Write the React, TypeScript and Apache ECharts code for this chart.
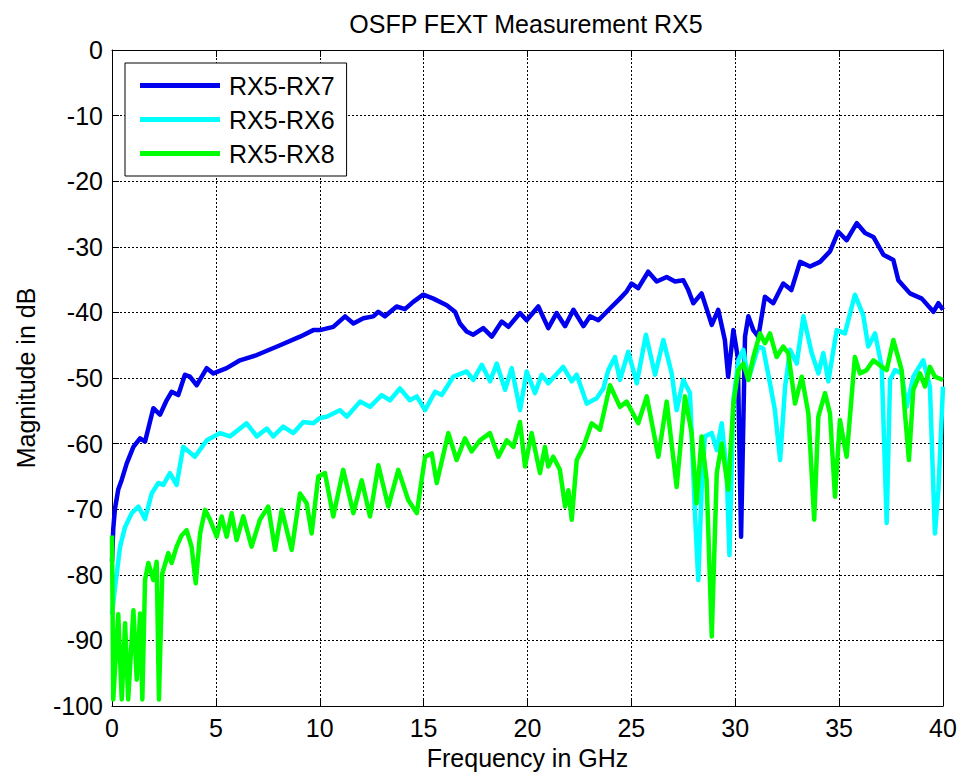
import React, { useEffect, useRef } from "react";
import * as echarts from "echarts";

const chartTitle = "OSFP FEXT Measurement RX5";
const xName = "Frequency in GHz";
const yName = "Magnitude in dB";
const seriesNames = ["RX5-RX7", "RX5-RX6", "RX5-RX8"];
const seriesColors = ["#0000EE", "#00FFFF", "#00FF00"];

const rx7Freq = [0, 0.06, 0.14, 0.30, 0.47, 0.71, 1.03, 1.35, 1.59, 1.99, 2.31, 2.63, 2.87, 3.19, 3.51, 3.75, 4.08, 4.56, 4.88, 5.52, 6.16, 6.97, 8.09, 9.05, 9.69, 10.01, 10.65, 11.22, 11.62, 12.10, 12.58, 12.82, 13.14, 13.70, 14.10, 14.50, 14.98, 15.47, 16.11, 16.51, 16.75, 17.07, 17.39, 17.87, 18.28, 18.76, 19.08, 19.64, 19.96, 20.52, 21.0, 21.4, 21.81, 22.21, 22.69, 23.01, 23.41, 23.97, 24.45, 24.77, 25.01, 25.33, 25.81, 26.22, 26.7, 27.1, 27.5, 27.74, 27.98, 28.38, 28.87, 29.18, 29.5, 29.66, 29.91, 30.12, 30.28, 30.47, 30.63, 30.87, 31.11, 31.43, 31.83, 32.31, 32.7, 33.12, 33.6, 34.08, 34.56, 34.96, 35.36, 35.85, 36.25, 36.65, 37.13, 37.61, 37.85, 38.41, 38.98, 39.54, 39.78, 40];
const rx7Mag = [-78, -73, -70, -67, -65.5, -63, -60.5, -59.2, -59.7, -54.6, -55.6, -53.4, -52.1, -52.6, -49.5, -49.8, -51.1, -48.5, -49.3, -48.5, -47.3, -46.5, -45, -43.7, -42.7, -42.7, -42.2, -40.6, -41.7, -40.9, -40.6, -39.9, -40.6, -39.1, -39.5, -38.4, -37.3, -37.9, -38.9, -39.9, -41.7, -42.9, -43.4, -42.4, -43.7, -41.4, -42.2, -40.1, -41.2, -39.1, -42.4, -40.1, -42.1, -39.6, -42.1, -40.6, -41.2, -39.4, -37.9, -36.8, -35.6, -36.3, -33.8, -35.3, -34.6, -35.3, -35.1, -36.6, -38.6, -37.1, -41.9, -39.6, -44.2, -49.8, -42.7, -46.8, -74.2, -43.7, -40.6, -42.7, -43.7, -37.6, -38.6, -35.6, -36.6, -32.3, -33.0, -32.3, -30.7, -27.7, -29.0, -26.4, -27.9, -28.5, -31.2, -32.0, -35.1, -37.1, -37.9, -39.9, -38.6, -39.6];

const rx6Freq = [0, 0.14, 0.39, 0.63, 0.95, 1.27, 1.59, 1.91, 2.23, 2.47, 2.79, 3.11, 3.43, 3.99, 4.56, 5.2, 5.68, 6.48, 6.97, 7.45, 7.76, 8.24, 8.73, 9.21, 9.69, 10.01, 10.33, 10.97, 11.3, 11.94, 12.42, 12.98, 13.38, 13.86, 14.34, 14.67, 15.07, 15.55, 15.87, 16.43, 17.07, 17.39, 17.8, 18.2, 18.52, 18.92, 19.24, 19.64, 19.96, 20.36, 20.68, 21.0, 21.72, 22.13, 22.37, 22.85, 23.33, 23.65, 23.89, 24.21, 24.45, 24.85, 25.26, 25.70, 26.14, 26.54, 26.94, 27.18, 27.5, 27.82, 28.06, 28.22, 28.38, 28.54, 28.87, 29.11, 29.35, 29.59, 29.72, 29.91, 30.15, 30.39, 30.63, 31.11, 31.35, 31.67, 31.91, 32.16, 32.4, 32.64, 32.96, 33.28, 33.68, 34.0, 34.24, 34.48, 34.88, 35.28, 35.76, 36.16, 36.4, 36.73, 37.05, 37.29, 37.45, 37.69, 38.01, 38.25, 38.57, 39.05, 39.37, 39.61, 39.78, 40];
const rx6Mag = [-86, -82, -75.7, -72.7, -70.6, -69.6, -71.5, -67.6, -66, -66.3, -64.5, -66.3, -60.5, -62.0, -59.5, -58.4, -58.9, -56.9, -58.9, -57.7, -58.9, -57.4, -58.4, -56.7, -56.9, -56.1, -55.9, -54.9, -55.9, -53.6, -54.4, -52.6, -53.4, -51.6, -53.4, -52.8, -54.9, -52.1, -52.6, -49.8, -49.0, -50.3, -48.0, -50.5, -47.8, -51.8, -48.5, -54.9, -49.0, -52.3, -49.5, -50.8, -48.3, -50.5, -49.5, -53.9, -53.1, -51.6, -48.8, -46.8, -50.3, -46.0, -50.8, -43.4, -49.5, -44.2, -49.3, -54.9, -50.3, -52.3, -70.6, -80.8, -67.1, -58.9, -58.4, -61.0, -56.9, -64.5, -77, -53.4, -47.3, -45.7, -50.3, -45.2, -45.5, -50.8, -54.9, -62.5, -51.3, -45.7, -47.8, -40.6, -46.2, -49.3, -46.2, -50.5, -42.7, -43.2, -37.3, -40.4, -45.2, -43.2, -48.3, -72.1, -50.3, -48.8, -49.3, -54.4, -49.8, -47.3, -51.3, -73.7, -67.1, -51.3];

const rx8Freq = [0, 0.06, 0.3, 0.47, 0.63, 0.78, 1.03, 1.19, 1.35, 1.46, 1.59, 1.75, 1.99, 2.15, 2.26, 2.42, 2.71, 2.87, 3.11, 3.35, 3.59, 3.83, 4.03, 4.24, 4.48, 4.72, 5.04, 5.28, 5.52, 5.76, 6.0, 6.32, 6.72, 7.12, 7.52, 7.85, 8.17, 8.65, 9.05, 9.37, 9.61, 9.93, 10.25, 10.65, 11.13, 11.62, 12.02, 12.42, 12.82, 13.30, 13.78, 14.26, 14.67, 15.07, 15.39, 15.63, 16.19, 16.59, 16.99, 17.31, 17.71, 18.19, 18.6, 19.0, 19.32, 19.64, 19.88, 20.2, 20.6, 20.84, 21.0, 21.24, 21.56, 21.81, 21.97, 22.13, 22.37, 22.69, 23.09, 23.49, 23.97, 24.45, 24.77, 25.33, 25.74, 26.3, 26.70, 27.18, 27.58, 27.9, 28.14, 28.38, 28.62, 28.87, 29.11, 29.35, 29.66, 29.91, 30.15, 30.39, 30.63, 30.87, 31.19, 31.43, 31.67, 31.99, 32.31, 32.55, 32.88, 33.2, 33.52, 33.8, 34.0, 34.32, 34.56, 34.8, 35.04, 35.36, 35.76, 36.0, 36.32, 36.65, 37.05, 37.29, 37.61, 38.01, 38.17, 38.36, 38.57, 38.89, 39.13, 39.37, 39.61, 40];
const rx8Mag = [-74, -99, -86, -99, -87.4, -99, -85.4, -96, -85.9, -99, -80.8, -78.2, -80.8, -78, -99, -79.8, -76.7, -78.2, -75.7, -74, -73.2, -75.7, -81.3, -73.7, -70.1, -71.6, -74.2, -71.1, -74.2, -70.6, -74.7, -71.1, -75.7, -71.6, -69.6, -76.2, -70.1, -76.2, -67.6, -69.1, -73.7, -65.0, -64.5, -71.1, -64.0, -70.6, -65.6, -71.1, -63.3, -69.6, -64.0, -68.6, -70.6, -62.0, -61.5, -66.0, -58.4, -62.5, -59.2, -61.2, -59.5, -58.4, -62.0, -59.5, -60.5, -56.7, -63.5, -58.4, -64.5, -60.5, -63.5, -62.0, -64.0, -69.6, -67.1, -71.6, -62.5, -60.5, -56.9, -57.9, -51.1, -54.4, -53.6, -56.9, -52.8, -62.0, -53.6, -66.6, -52.8, -58.4, -69.1, -58.9, -65.5, -89.4, -64.5, -60, -67, -53.9, -48.8, -47.8, -50.3, -46.8, -43.2, -44.7, -43.2, -46.8, -45.2, -46.2, -53.9, -49.8, -55.4, -71.6, -55.9, -52.3, -55.4, -68.1, -56.4, -62.0, -46.8, -49.3, -48.8, -47.3, -48.3, -48.8, -44.2, -48.8, -55.4, -62.5, -51.8, -49.3, -51.3, -48.3, -49.8, -50.3];

const xMin = 0, xMax = 40, xStep = 5;
const yMin = -100, yMax = 0, yStep = 10;

export default function App() {
  const ref = useRef<HTMLDivElement>(null);
  useEffect(() => {
    const chart = echarts.init(ref.current!, null, { renderer: "svg" });
    const font = "'Liberation Sans', Arial, sans-serif";
    const fs = 25;
    const zip = (f: number[], m: number[]) => f.map((x, i) => [x, m[i]]);
    const line = { show: true, onZero: false, lineStyle: { color: "#000", width: 1 } };
    const tick = { show: true, inside: true, length: 7, lineStyle: { color: "#000", width: 1 } };
    const grid = { show: true, lineStyle: { color: "#000", width: 1, type: [2, 2] } };
    const label = { color: "#000", fontSize: fs, fontFamily: font };
    const datasets = [zip(rx7Freq, rx7Mag), zip(rx6Freq, rx6Mag), zip(rx8Freq, rx8Mag)];
    chart.setOption({
      animation: false,
      backgroundColor: "#fff",
      title: {
        text: chartTitle,
        left: 526,
        textAlign: "center",
        top: 11,
        padding: 0,
        textStyle: { color: "#000", fontSize: fs, fontWeight: "normal", fontFamily: font },
      },
      legend: {
        orient: "vertical",
        left: 125,
        top: 63,
        padding: [10, 12, 10, 15],
        itemGap: 9,
        itemWidth: 80,
        itemHeight: 5,
        icon: "rect",
        backgroundColor: "#fff",
        borderColor: "#000",
        borderWidth: 1,
        textStyle: { ...label, padding: [0, 0, 0, 4] },
        data: seriesNames,
      },
      grid: { left: 112, right: 18, top: 50, bottom: 69, containLabel: false },
      xAxis: [
        {
          type: "value", min: xMin, max: xMax, interval: xStep, position: "bottom",
          axisLine: line, axisTick: tick, splitLine: grid,
          axisLabel: { ...label, margin: 9 },
          name: xName, nameLocation: "middle", nameGap: 39,
          nameTextStyle: label,
        },
        {
          type: "value", min: xMin, max: xMax, interval: xStep, position: "top",
          axisLine: line, axisTick: tick, splitLine: { show: false }, axisLabel: { show: false },
        },
      ],
      yAxis: [
        {
          type: "value", min: yMin, max: yMax, interval: yStep, position: "left",
          axisLine: line, axisTick: tick, splitLine: grid,
          axisLabel: { ...label, margin: 9 },
          name: yName, nameLocation: "middle", nameGap: 74, nameRotate: 90,
          nameTextStyle: label,
        },
        {
          type: "value", min: yMin, max: yMax, interval: yStep, position: "right",
          axisLine: line, axisTick: tick, splitLine: { show: false }, axisLabel: { show: false },
        },
      ],
      series: seriesNames.map((name, i) => ({
        name,
        type: "line",
        xAxisIndex: 0,
        yAxisIndex: 0,
        data: datasets[i],
        showSymbol: false,
        symbol: "none",
        color: seriesColors[i],
        lineStyle: { color: seriesColors[i], width: 4.5, join: "round" },
        clip: true,
      })),
    });
    return () => chart.dispose();
  }, []);
  return (
    <div
      ref={ref}
      style={{ position: "fixed", left: 0, top: 0, width: 961, height: 775, background: "#fff" }}
    />
  );
}
